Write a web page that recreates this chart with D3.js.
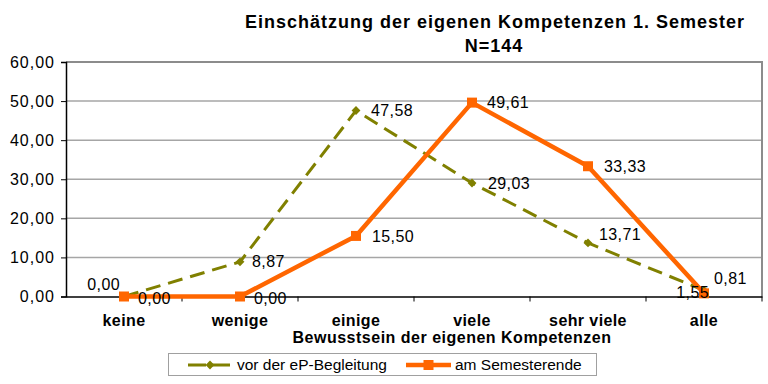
<!DOCTYPE html>
<html>
<head>
<meta charset="utf-8">
<script src="https://cdn.jsdelivr.net/npm/d3@7"></script>
<style>
  body { margin: 0; background: #fff; }
  svg { font-family: "Liberation Sans", Arial, sans-serif; }
</style>
</head>
<body>
<div id="chart"></div>
<script>
// chart data
const categories = ['keine', 'wenige', 'einige', 'viele', 'sehr viele', 'alle'];
const vorValues = [0.00, 8.87, 47.58, 29.03, 13.71, 1.55];
const amEndeValues = [0.00, 0.00, 15.50, 49.61, 33.33, 0.81];
const yTicks = [0, 10, 20, 30, 40, 50, 60];
const seriesNames = ['vor der eP-Begleitung', 'am Semesterende'];

// label nudges (dx, dy, anchor) so labels sit like in the original
const vorLabelPos = [[-4, -12, 'end'], [12, 0, 'start'], [15, 0, 'start'], [16, 0, 'start'], [11, -9, 'start'], [5, 2, 'end']];
const endeLabelPos = [[14, 2, 'start'], [14, 2, 'start'], [16, 0, 'start'], [15, 0, 'start'], [16, 0, 'start'], [10, -15, 'start']];

const width = 768;
const height = 384;
const margin = { top: 62, right: 6, bottom: 88, left: 66 };

const svg = d3.select('#chart')
    .append('svg')
    .attr('width', width)
    .attr('height', height);

const x = d3.scaleBand()
    .domain(categories)
    .range([margin.left, width - margin.right]);

const y = d3.scaleLinear()
    .domain([0, 60])
    .range([height - margin.bottom + 0.5, margin.top]);

const fmt = v => d3.format('.2f')(v).replace('.', ',');
const cx = d => x(d) + x.bandwidth() / 2;

// gridlines
svg.append('g')
    .selectAll('line')
    .data(yTicks.slice(1, -1))
    .enter()
    .append('line')
    .attr('x1', margin.left)
    .attr('x2', width - margin.right)
    .attr('y1', d => y(d))
    .attr('y2', d => y(d))
    .attr('stroke', '#a6a6a6')
    .attr('stroke-width', 1.5);

// plot border top & right
svg.append('path')
    .attr('d', `M${margin.left},${y(60)}H${width - margin.right}V${y(0)}`)
    .attr('fill', 'none')
    .attr('stroke', '#8c8c8c')
    .attr('stroke-width', 2);

// y axis
const yAxis = svg.append('g')
    .attr('transform', `translate(${margin.left},0)`)
    .call(d3.axisLeft(y).tickValues(yTicks).tickSize(5).tickPadding(6).tickFormat(fmt));
yAxis.select('.domain').attr('stroke', '#000').attr('stroke-width', 1.5);
yAxis.selectAll('.tick line').attr('stroke', '#000');
yAxis.selectAll('text')
    .attr('font-size', 16).attr('letter-spacing', 1)
    .attr('fill', '#000').attr('font-family', null);

// x axis
const xAxis = svg.append('g')
    .attr('transform', `translate(0,${y(0)})`)
    .call(d3.axisBottom(x).tickSize(0).tickPadding(18));
xAxis.select('.domain').attr('stroke', '#000').attr('stroke-width', 1.5);
xAxis.selectAll('text')
    .attr('font-size', 16).attr('font-weight', 'bold').attr('letter-spacing', 0.4)
    .attr('fill', '#000').attr('font-family', null);

// boundary ticks between categories
svg.append('g')
    .selectAll('line')
    .data(categories.slice(1).concat(['__end']))
    .enter()
    .append('line')
    .attr('x1', d => d === '__end' ? width - margin.right : x(d))
    .attr('x2', d => d === '__end' ? width - margin.right : x(d))
    .attr('y1', y(0))
    .attr('y2', y(0) + 5)
    .attr('stroke', '#000');

// titles
svg.append('text')
    .attr('x', 495).attr('y', 28)
    .attr('text-anchor', 'middle')
    .attr('font-size', 18).attr('font-weight', 'bold').attr('letter-spacing', 1)
    .text('Einschätzung der eigenen Kompetenzen 1. Semester');
svg.append('text')
    .attr('x', 494).attr('y', 52)
    .attr('text-anchor', 'middle')
    .attr('font-size', 18).attr('font-weight', 'bold').attr('letter-spacing', 1)
    .text('N=144');
svg.append('text')
    .attr('x', 452).attr('y', 343)
    .attr('text-anchor', 'middle')
    .attr('font-size', 16).attr('font-weight', 'bold').attr('letter-spacing', 0.5)
    .text('Bewusstsein der eigenen Kompetenzen');

const line = d3.line()
    .x((d, i) => cx(categories[i]))
    .y(d => y(d));

// green series
svg.append('path')
    .datum(vorValues)
    .attr('d', line)
    .attr('fill', 'none')
    .attr('stroke', '#808000')
    .attr('stroke-width', 3)
    .attr('stroke-dasharray', '15,8');

svg.append('g')
    .selectAll('path')
    .data(vorValues)
    .enter()
    .append('path')
    .attr('d', d3.symbol().type(d3.symbolDiamond2).size(50))
    .attr('transform', (d, i) => `translate(${cx(categories[i])},${y(d)})`)
    .attr('fill', '#808000');

// orange series
svg.append('path')
    .datum(amEndeValues)
    .attr('d', line)
    .attr('fill', 'none')
    .attr('stroke', '#ff6600')
    .attr('stroke-width', 4.5)
    .attr('stroke-linejoin', 'round');

svg.append('g')
    .selectAll('rect')
    .data(amEndeValues)
    .enter()
    .append('rect')
    .attr('x', (d, i) => cx(categories[i]) - 5)
    .attr('y', d => y(d) - 5)
    .attr('width', 10)
    .attr('height', 10)
    .attr('fill', '#ff6600');

// data labels
function addLabels(values, pos) {
    svg.append('g')
        .selectAll('text')
        .data(values)
        .enter()
        .append('text')
        .attr('x', (d, i) => cx(categories[i]) + pos[i][0])
        .attr('y', (d, i) => y(d) + pos[i][1])
        .attr('dy', '0.35em')
        .attr('text-anchor', (d, i) => pos[i][2])
        .attr('font-size', 16)
        .attr('letter-spacing', 0.4)
        .attr('fill', '#000')
        .text(fmt);
}
addLabels(vorValues, vorLabelPos);
addLabels(amEndeValues, endeLabelPos);

// legend
const legend = svg.append('g');
legend.append('rect')
    .attr('x', 168.5).attr('y', 353.5)
    .attr('width', 428).attr('height', 22)
    .attr('fill', '#fff')
    .attr('stroke', '#a0a0a0')
    .attr('stroke-width', 1);

const ly = 365;
legend.append('line')
    .attr('x1', 188).attr('x2', 233).attr('y1', ly).attr('y2', ly)
    .attr('stroke', '#808000').attr('stroke-width', 3)
    .attr('stroke-dasharray', '18,6');
legend.append('path')
    .attr('d', d3.symbol().type(d3.symbolDiamond2).size(50))
    .attr('transform', `translate(210,${ly})`)
    .attr('fill', '#808000');
legend.append('text')
    .attr('x', 237).attr('y', ly).attr('dy', '0.35em')
    .attr('font-size', 15.5)
    .text(seriesNames[0]);

legend.append('line')
    .attr('x1', 406).attr('x2', 451).attr('y1', ly).attr('y2', ly)
    .attr('stroke', '#ff6600').attr('stroke-width', 4.5);
legend.append('rect')
    .attr('x', 423.5).attr('y', ly - 5).attr('width', 10).attr('height', 10)
    .attr('fill', '#ff6600');
legend.append('text')
    .attr('x', 455).attr('y', ly).attr('dy', '0.35em')
    .attr('font-size', 15.5)
    .text(seriesNames[1]);
</script>
</body>
</html>
